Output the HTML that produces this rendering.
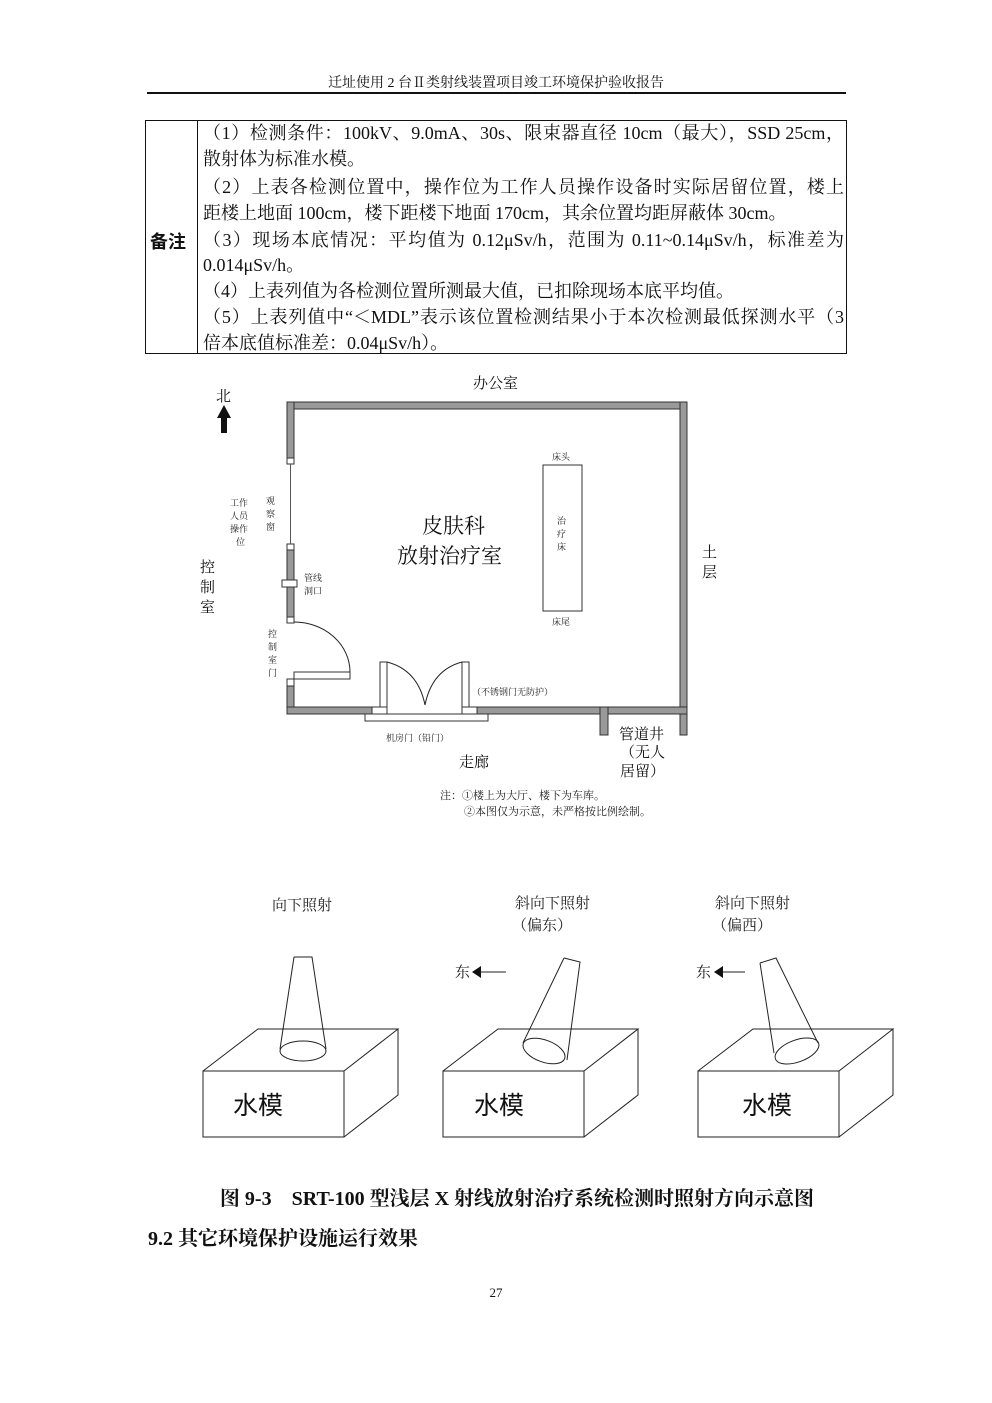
<!DOCTYPE html>
<html><head><meta charset="utf-8"><style>
body{margin:0;background:#fff;}
#p{position:relative;width:992px;height:1403px;overflow:hidden;font-family:"Liberation Serif","Noto Serif CJK SC","Noto Sans CJK SC",serif;color:#111;}
.a{position:absolute;white-space:nowrap;}
.ln{position:absolute;left:203px;width:641px;font-size:18px;line-height:20px;white-space:nowrap;}
.j{text-align:justify;text-align-last:justify;}
</style></head><body><div id="p">
<div class="a" style="left:0;width:992px;text-align:center;top:72px;font-size:14px;">迁址使用 2 台Ⅱ类射线装置项目竣工环境保护验收报告</div>
<div class="a" style="left:147px;top:92px;width:699px;height:2px;background:#111"></div>
<div class="a" style="left:145px;top:120px;width:702px;height:234px;border:1px solid #111;box-sizing:border-box"></div>
<div class="a" style="left:197px;top:120px;width:1px;height:234px;background:#111"></div>
<div class="a" style="left:150px;top:228px;font-size:18px;font-weight:bold;font-family:'Noto Sans CJK SC',sans-serif">备注</div>
<div class="ln j" style="top:123px">（1）检测条件：100kV、9.0mA、30s、限束器直径 10cm（最大），SSD 25cm，</div>
<div class="ln" style="top:149px">散射体为标准水模。</div>
<div class="ln j" style="top:177px">（2）上表各检测位置中，操作位为工作人员操作设备时实际居留位置，楼上</div>
<div class="ln" style="top:203px">距楼上地面 100cm，楼下距楼下地面 170cm，其余位置均距屏蔽体 30cm。</div>
<div class="ln j" style="top:230px">（3）现场本底情况：平均值为 0.12μSv/h，范围为 0.11~0.14μSv/h，标准差为</div>
<div class="ln" style="top:255px">0.014μSv/h。</div>
<div class="ln" style="top:281px">（4）上表列值为各检测位置所测最大值，已扣除现场本底平均值。</div>
<div class="ln j" style="top:307px">（5）上表列值中“＜MDL”表示该位置检测结果小于本次检测最低探测水平（3</div>
<div class="ln" style="top:333px">倍本底值标准差：0.04μSv/h）。</div>

<svg class="a" style="left:0;top:0" width="992" height="1403" font-family="'Noto Serif CJK SC','Noto Sans CJK SC',serif">
<g fill="#999" stroke="#333" stroke-width="1">
<rect x="287" y="402" width="400" height="7"/>
<rect x="680" y="402" width="7" height="333"/>
<rect x="287" y="402" width="7" height="56"/>
<rect x="287" y="550" width="7" height="67"/>
<rect x="287" y="686" width="7" height="28"/>
<rect x="287" y="707" width="95" height="7"/>
<rect x="467" y="707" width="220" height="7"/>
<rect x="600" y="707" width="8" height="28"/>
</g>
<g fill="#fff" stroke="#333" stroke-width="1">
<rect x="287" y="458" width="7" height="6"/>
<rect x="287" y="544" width="7" height="6"/>
<rect x="287" y="617" width="7" height="6"/>
<rect x="287" y="679" width="7" height="7"/>
<rect x="294" y="672" width="56" height="7"/>
<rect x="282" y="580" width="15" height="7"/>
<rect x="380" y="662" width="7" height="45"/>
<rect x="462" y="662" width="7" height="45"/>
<rect x="372" y="707" width="15" height="7"/>
<rect x="462" y="707" width="15" height="7"/>
<rect x="365" y="714" width="123" height="7"/>
<rect x="543" y="465" width="39" height="146"/>
</g>
<line x1="290.5" y1="464" x2="290.5" y2="544" stroke="#555"/>
<g fill="none" stroke="#222" stroke-width="1">
<path d="M294 622 A56 50 0 0 1 350 672"/>
<path d="M387 662 Q418 670 425 705"/>
<path d="M462 662 Q432 670 425 705"/>
</g>
<polygon points="224,405 231,418 227,418 227,433 221,433 221,418 217,418" fill="#111"/>
<g font-size="15" fill="#111">
<text x="473" y="388">办公室</text>
<text x="216" y="401">北</text>
<text x="200" y="572">控</text><text x="200" y="592">制</text><text x="200" y="612">室</text>
<text x="702" y="557">土</text><text x="702" y="577">层</text>
<text x="459" y="767">走廊</text>
<text x="619" y="739">管道井</text>
<text x="620" y="757">（无人</text>
<text x="620" y="776">居留）</text>
</g>
<g font-size="21" fill="#111">
<text x="422" y="533">皮肤科</text>
<text x="397" y="563">放射治疗室</text>
</g>
<g font-size="9" fill="#222">
<text x="552" y="460">床头</text><text x="552" y="625">床尾</text>
<text x="557" y="524">治</text><text x="557" y="537">疗</text><text x="557" y="550">床</text>
<text x="230" y="506">工作</text><text x="230" y="519">人员</text><text x="230" y="532">操作</text><text x="236" y="545">位</text>
<text x="266" y="504">观</text><text x="266" y="517">察</text><text x="266" y="530">窗</text>
<text x="304" y="581">管线</text><text x="304" y="594">洞口</text>
<text x="268" y="637">控</text><text x="268" y="650">制</text><text x="268" y="663">室</text><text x="268" y="676">门</text>
<text x="472" y="695">（不锈钢门无防护）</text>
<text x="386" y="741">机房门（铅门）</text>
<text x="440" y="799" font-size="11">注：①楼上为大厅、楼下为车库。</text>
<text x="464" y="815" font-size="11">②本图仅为示意，未严格按比例绘制。</text>
</g>

<g fill="none" stroke="#222" stroke-width="1">
<path d="M203 1071 H344 V1137 H203 Z M203 1071 L258 1029 H398 L344 1071 M398 1029 V1095 L344 1137"/>
<path d="M294 957 H312 L326 1049 M294 957 L280 1049"/>
<ellipse cx="303" cy="1051" rx="23" ry="10"/>
<path d="M443 1071 H584 V1137 H443 Z M443 1071 L498 1029 H638 L584 1071 M638 1029 V1095 L584 1137"/>
<path d="M564 958 L580 962 L567 1060 M564 958 L523 1043"/>
<ellipse cx="544" cy="1051" rx="22" ry="11" transform="rotate(20 544 1051)"/>
<path d="M698 1071 H839 V1137 H698 Z M698 1071 L753 1029 H893 L839 1071 M893 1029 V1095 L839 1137"/>
<path d="M760 963 L776 958 L818 1043 M760 963 L774 1053"/>
<ellipse cx="797" cy="1051" rx="23" ry="11" transform="rotate(-20 797 1051)"/>
<line x1="480" y1="972" x2="506" y2="972"/>
<line x1="722" y1="972" x2="745" y2="972"/>
</g>
<polygon points="472,972 481,966 481,978" fill="#111"/>
<polygon points="714,972 723,966 723,978" fill="#111"/>
<g font-size="15" fill="#222">
<text x="272" y="910">向下照射</text>
<text x="515" y="908">斜向下照射</text>
<text x="512" y="930">（偏东）</text>
<text x="715" y="908">斜向下照射</text>
<text x="712" y="930">（偏西）</text>
<text x="455" y="977">东</text>
<text x="696" y="977">东</text>
</g>
<g font-size="25" fill="#111" font-family="'Noto Sans CJK SC',sans-serif">
<text x="233" y="1114">水模</text>
<text x="474" y="1114">水模</text>
<text x="742" y="1114">水模</text>
</g>
</svg>

<div class="a" style="left:0;width:1034px;text-align:center;top:1182px;font-size:20px;font-weight:bold">图 9-3　SRT-100 型浅层 X 射线放射治疗系统检测时照射方向示意图</div>
<div class="a" style="left:148px;top:1222px;font-size:20px;font-weight:bold">9.2 其它环境保护设施运行效果</div>
<div class="a" style="left:0;width:992px;text-align:center;top:1285px;font-size:13px">27</div>
</div></body></html>
